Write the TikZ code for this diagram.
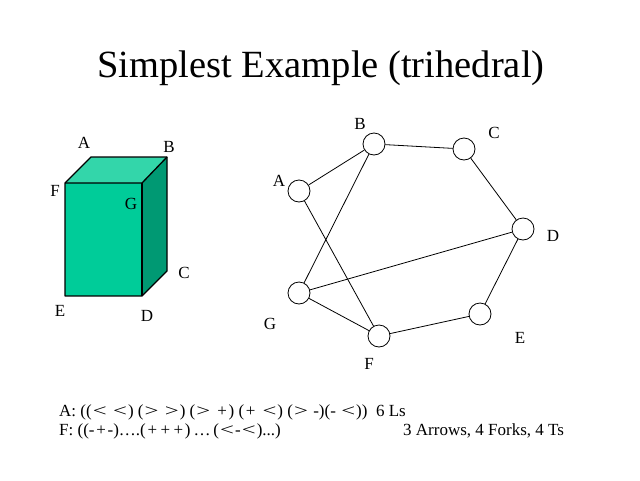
\documentclass[tikz,border=0pt]{standalone}
\usepackage{fontspec}
\setmainfont{Liberation Serif}
\definecolor{frontc}{RGB}{0,204,153}
\definecolor{topc}{RGB}{51,214,170}
\definecolor{sidec}{RGB}{0,153,115}
\newcommand\wlt{\makebox[16pt]{\scalebox{1.45}[1]{<}}}
\newcommand\wgt{\makebox[16pt]{\scalebox{1.45}[1]{>}}}
\newcommand\wpl{\makebox[13pt]{+}}
\begin{document}
\begin{tikzpicture}[x=1pt,y=-1pt,
  vtx/.style={circle,draw=black,fill=white,line width=0.8pt,minimum size=22pt,inner sep=0pt},
  lab/.style={font=\fontsize{17}{19}\selectfont,inner sep=0pt},
  edge/.style={line width=0.8pt},
  face/.style={draw=black,line width=1.3pt,line join=round}]
\useasboundingbox[fill=white] (0,0) rectangle (640,480);
% title
\node[anchor=base,inner sep=0pt,font=\fontsize{38.5}{42}\selectfont] (title) at (321,77) {Simplest Example (trihedral)};
% box
\fill[topc] (65,183) -- (91,157) -- (167,157) -- (142,183) -- cycle;
\fill[sidec] (142,183) -- (167,157) -- (167,271) -- (142,296) -- cycle;
\fill[frontc] (65,183) rectangle (142,296);
\draw[face] (65,183) -- (91,157) -- (167,157) -- (167,271) -- (142,296) -- (65,296) -- cycle;
\draw[face] (65,183) -- (142,183) -- (167,157);
\draw[face] (142,183) -- (142,296);
\node[lab] (bA) at (84,143) {A};
\node[lab] (bB) at (169,147) {B};
\node[lab] (bF) at (55,191) {F};
\node[lab] (bG) at (131,204) {G};
\node[lab] (bC) at (184,273) {C};
\node[lab] (bE) at (60,311) {E};
\node[lab] (bD) at (147,316) {D};
% graph
\node[vtx] (A) at (299,191) {};
\node[vtx] (B) at (374,144) {};
\node[vtx] (C) at (464,149) {};
\node[vtx] (D) at (523,229) {};
\node[vtx] (E) at (480,314) {};
\node[vtx] (F) at (379,336) {};
\node[vtx] (G) at (299,293) {};
\draw[edge] (A) -- (B);
\draw[edge] (B) -- (C);
\draw[edge] (C) -- (D);
\draw[edge] (D) -- (E);
\draw[edge] (E) -- (F);
\draw[edge] (F) -- (G);
\draw[edge] (G) -- (B);
\draw[edge] (G) -- (D);
\draw[edge] (A) -- (F);
\node[lab] (lA) at (279,181) {A};
\node[lab] (lB) at (360,124) {B};
\node[lab] (lC) at (494,133) {C};
\node[lab] (lD) at (553,236) {D};
\node[lab] (lE) at (520,338) {E};
\node[lab] (lF) at (369,364) {F};
\node[lab] (lG) at (270,324) {G};
% bottom text
\node[lab,anchor=base west] (t1) at (59,416) {A: ((\wlt\ \wlt) (\wgt\ \wgt) (\wgt\ \wpl) (\wpl\ \wlt) (\wgt\ -)(- \wlt))\ \ 6 Ls};
\node[lab,anchor=base west] (t2) at (59,435) {F: ((-\wpl-)….(\wpl\wpl\wpl)\makebox[23pt]{…}(\wlt-\wlt)...)};
\node[lab,anchor=base west] (t3) at (403,435) {3 Arrows, 4 Forks, 4 Ts};
\end{tikzpicture}
\end{document}
